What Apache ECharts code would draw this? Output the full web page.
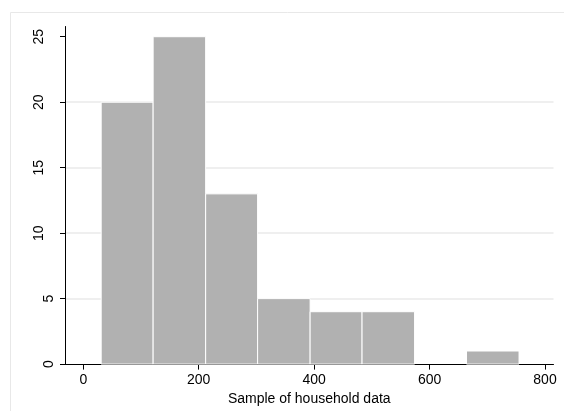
<!DOCTYPE html>
<html>
<head>
<meta charset="utf-8">
<script src="https://cdn.jsdelivr.net/npm/echarts@6/dist/echarts.min.js"></script>
<style>
html,body{margin:0;padding:0;background:#fff;}
#chart{width:564px;height:411px;}
</style>
</head>
<body>
<div id="chart"></div>
<script>
// Histogram bin edges
const binEdges = [31, 121, 212, 302, 393, 483, 574, 664, 755];
// Frequency per bin
const binCounts = [20, 25, 13, 5, 4, 4, 0, 1];
// Tick labels
const xTicks = [0, 200, 400, 600, 800];
const yTicks = [0, 5, 10, 15, 20, 25];
const xTitle = 'Sample of household data';

const barData = binCounts.map((c, i) => [binEdges[i], binEdges[i + 1], c]);

const FONT = '"Liberation Sans", Arial, Helvetica, sans-serif';
const chart = echarts.init(document.getElementById('chart'), null, {renderer: 'canvas'});

chart.setOption({
  animation: false,
  backgroundColor: '#ffffff',
  graphic: [{
    type: 'rect',
    shape: {x: 10.5, y: 12.5, width: 600, height: 500},
    style: {fill: 'none', stroke: '#e8e8e8', lineWidth: 1},
    silent: true,
    z: -10
  }],
  grid: {left: 65, right: 10.5, top: 26.5, bottom: 46.7, containLabel: false},
  xAxis: {
    type: 'value',
    min: -31.7,
    max: 814.7,
    splitLine: {show: false},
    axisLine: {show: true, onZero: false, lineStyle: {color: '#000', width: 1}},
    axisTick: {show: true, length: 5.5, customValues: xTicks, lineStyle: {color: '#000', width: 1}},
    axisLabel: {customValues: xTicks, margin: 9, color: '#000', fontSize: 14, fontFamily: FONT},
    name: xTitle,
    nameLocation: 'middle',
    nameGap: 24,
    nameTextStyle: {color: '#000', fontSize: 14, fontFamily: FONT}
  },
  yAxis: {
    type: 'value',
    min: 0,
    max: 25.78,
    interval: 5,
    axisLine: {show: true, onZero: false, lineStyle: {color: '#000', width: 1}},
    axisTick: {show: true, length: 5, customValues: yTicks, lineStyle: {color: '#000', width: 1}},
    axisLabel: {
      customValues: yTicks,
      rotate: 90,
      margin: 9,
      color: '#000',
      fontSize: 14,
      fontFamily: FONT,
      formatter: v => (v >= 10 ? '{w|' + v + '}' : '{n|' + v + '}'),
      rich: {
        w: {padding: [0, 0, 10, 0], color: '#000', fontSize: 14, fontFamily: FONT},
        n: {color: '#000', fontSize: 14, fontFamily: FONT}
      }
    },
    splitLine: {show: true, showMinLine: false, showMaxLine: false, lineStyle: {color: '#eaeaea', width: 1.5}}
  },
  series: [{
    type: 'custom',
    data: barData,
    encode: {x: [0, 1], y: 2},
    renderItem: function (params, api) {
      const c = api.value(2);
      if (!c) return null;
      const p0 = api.coord([api.value(0), c]);
      const p1 = api.coord([api.value(1), 0]);
      return {
        type: 'rect',
        shape: {x: p0[0], y: p0[1], width: p1[0] - p0[0], height: p1[1] - p0[1]},
        style: {fill: '#b1b1b1', stroke: '#ffffff', lineWidth: 1}
      };
    }
  }]
});
</script>
</body>
</html>
